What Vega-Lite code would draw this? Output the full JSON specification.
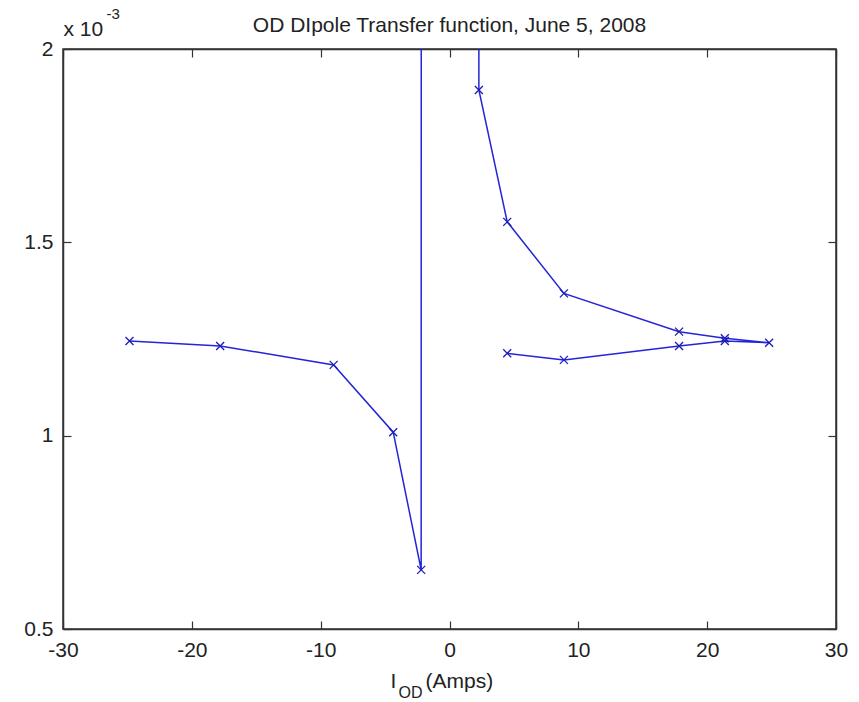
{
  "$schema": "https://vega.github.io/schema/vega-lite/v6.json",
  "width": 773,
  "height": 580,
  "autosize": {"type": "none"},
  "padding": {"left": 63, "top": 49, "right": 23, "bottom": 73},
  "background": "white",
  "title": {
    "text": "OD DIpole Transfer function, June 5, 2008",
    "font": "Liberation Sans",
    "fontSize": 21,
    "fontWeight": "normal",
    "color": "#222222",
    "anchor": "middle",
    "frame": "group",
    "baseline": "alphabetic",
    "offset": -47
  },
  "data": {
    "values": [
      {"i": 0, "x": -24.84, "y": 0.001245},
      {"i": 1, "x": -17.8, "y": 0.001232},
      {"i": 2, "x": -8.99, "y": 0.001183},
      {"i": 3, "x": -4.37, "y": 0.001009},
      {"i": 4, "x": -2.2, "y": 0.000653},
      {"i": 5, "x": 0, "y": 0.5},
      {"i": 6, "x": 2.28, "y": 0.001894},
      {"i": 7, "x": 4.48, "y": 0.001553},
      {"i": 8, "x": 8.88, "y": 0.001368},
      {"i": 9, "x": 17.82, "y": 0.001269},
      {"i": 10, "x": 21.37, "y": 0.001252},
      {"i": 11, "x": 24.81, "y": 0.0012405},
      {"i": 12, "x": 21.37, "y": 0.001245},
      {"i": 13, "x": 17.82, "y": 0.001232},
      {"i": 14, "x": 8.88, "y": 0.001196},
      {"i": 15, "x": 4.48, "y": 0.001213}
    ]
  },
  "layer": [
    {
      "mark": {"type": "line", "color": "#2424d8", "strokeWidth": 1.5, "clip": true},
      "encoding": {
        "x": {
          "field": "x", "type": "quantitative",
          "scale": {"domain": [-30, 30], "nice": false, "zero": false},
          "axis": {
            "orient": "bottom",
            "values": [-30, -20, -10, 0, 10, 20, 30],
            "labelExpr": "'' + datum.value",
            "labelFlush": false,
            "labelPadding": 18,
            "tickSize": -8,
            "title": "I\u00a0\u00a0\u00a0\u00a0\u00a0(Amps)",
            "titleX": 327,
            "titleY": 58,
            "titleAlign": "left",
            "titleBaseline": "alphabetic",
            "titleAngle": 0
          }
        },
        "y": {
          "field": "y", "type": "quantitative",
          "scale": {"domain": [0.0005, 0.002], "nice": false, "zero": false},
          "axis": {
            "orient": "left",
            "values": [0.0005, 0.001, 0.0015, 0.002],
            "labelExpr": "format(datum.value*1000, '.2~f')",
            "labelFlush": false,
            "labelPadding": 18,
            "tickSize": -8,
            "title": "x 10",
            "titleX": 0,
            "titleY": -14,
            "titleAngle": 0,
            "titleAlign": "left",
            "titleBaseline": "alphabetic"
          }
        },
        "order": {"field": "i", "type": "quantitative"}
      }
    },
    {
      "mark": {"type": "point", "shape": "M-1,-1L1,1M-1,1L1,-1", "filled": false, "size": 64, "strokeWidth": 1.3, "color": "#1c1cb8", "opacity": 1, "clip": true},
      "encoding": {
        "x": {
          "field": "x", "type": "quantitative",
          "axis": {
            "orient": "top",
            "values": [-30, -20, -10, 0, 10, 20, 30],
            "labels": false,
            "tickSize": -8,
            "title": "OD",
            "titleFontSize": 16,
            "titleX": 335,
            "titleY": 648,
            "titleAlign": "left",
            "titleBaseline": "alphabetic",
            "titleAngle": 0
          }
        },
        "y": {
          "field": "y", "type": "quantitative",
          "axis": {
            "orient": "right",
            "values": [0.0005, 0.001, 0.0015, 0.002],
            "labels": false,
            "tickSize": -8,
            "title": "-3",
            "titleFontSize": 15,
            "titleX": -730,
            "titleY": -31,
            "titleAlign": "left",
            "titleBaseline": "alphabetic",
            "titleAngle": 0
          }
        }
      }
    }
  ],
  "resolve": {"axis": {"x": "independent", "y": "independent"}},
  "config": {
    "view": {"stroke": "#333333", "strokeWidth": 1.5},
    "axis": {
      "grid": false,
      "labelFont": "Liberation Sans",
      "labelFontSize": 21,
      "labelColor": "#222222",
      "labelOverlap": false,
      "titleFont": "Liberation Sans",
      "titleFontSize": 21,
      "titleFontWeight": "normal",
      "titleColor": "#222222",
      "domainColor": "#333333",
      "domainWidth": 1.5,
      "tickColor": "#333333",
      "tickWidth": 1.2
    }
  }
}
